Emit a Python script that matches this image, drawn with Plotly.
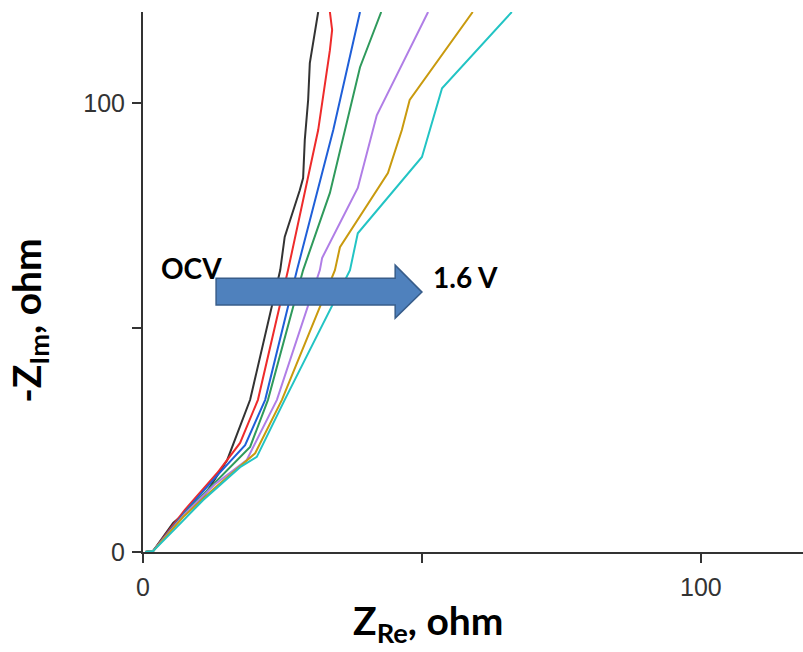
import plotly.graph_objects as go

# Nyquist curves, OCV -> 1.6 V  (x = Z_Re, y = -Z_Im, ohm)
black_x = [0.4, 1.8, 5.4, 10.8, 15.1, 19.2, 24.6, 25.4, 28.1, 28.7, 29.0, 29.6, 29.9, 31.4]
black_y = [0.0, 0.2, 6.5, 12.2, 20.5, 33.9, 62.8, 70.2, 80.6, 83.3, 91.8, 100.7, 108.9, 120.3]

red_x = [0.4, 1.8, 7.5, 13.3, 17.4, 20.6, 26.0, 31.4, 33.5, 33.9, 33.5]
red_y = [0.0, 0.2, 9.4, 17.6, 24.3, 33.9, 62.8, 94.0, 111.8, 116.3, 120.3]

blue_x = [0.4, 1.8, 7.5, 12.9, 18.3, 21.9, 27.6, 34.1, 38.9]
blue_y = [0.0, 0.2, 8.9, 16.5, 23.8, 33.9, 62.8, 94.0, 120.3]

green_x = [0.4, 1.8, 7.7, 13.4, 19.2, 22.4, 28.7, 33.5, 36.2, 38.9, 42.7]
green_y = [0.0, 0.2, 8.9, 16.0, 23.4, 33.9, 62.8, 80.0, 94.0, 108.0, 120.3]

purple_x = [0.4, 1.8, 7.5, 12.9, 18.6, 24.0, 31.7, 32.1, 38.5, 41.2, 41.9, 51.1]
purple_y = [0.0, 0.2, 8.5, 15.1, 20.5, 33.9, 62.8, 65.5, 81.1, 94.0, 97.3, 120.3]

orange_x = [0.4, 1.8, 7.2, 12.9, 20.1, 24.9, 34.4, 35.3, 43.9, 46.4, 47.8, 59.1]
orange_y = [0.0, 0.2, 7.8, 14.3, 22.0, 33.9, 62.8, 67.9, 84.4, 94.0, 100.7, 120.3]

cyan_x = [0.4, 1.8, 6.1, 10.8, 17.4, 20.4, 25.4, 37.1, 38.5, 50.0, 53.6, 66.1]
cyan_y = [0.0, 0.2, 5.6, 11.6, 18.9, 21.2, 33.9, 62.8, 71.0, 88.0, 103.3, 120.3]

series = [
    (black_x, black_y, "#333333"),
    (red_x, red_y, "#ee2b2b"),
    (blue_x, blue_y, "#1f5fd8"),
    (green_x, green_y, "#2f9a5c"),
    (purple_x, purple_y, "#b07ee6"),
    (orange_x, orange_y, "#c99a0e"),
    (cyan_x, cyan_y, "#22c4c4"),
]

major_ticks = [0, 100]
major_labels = ["0", "100"]
minor_ticks = [50]

fig = go.Figure()
for xs, ys, c in series:
    fig.add_trace(go.Scatter(x=xs, y=ys, mode="lines",
                             line=dict(color=c, width=2), showlegend=False))

axis_common = dict(showgrid=False, zeroline=False, showline=True,
                   linecolor="#333333", linewidth=2, ticks="outside",
                   ticklen=9, tickwidth=2, tickcolor="#333333",
                   tickvals=major_ticks, ticktext=major_labels,
                   minor=dict(tickvals=minor_ticks, ticks="outside", ticklen=9,
                              tickwidth=2, tickcolor="#333333", showgrid=False),
                   tickfont=dict(family="Liberation Sans Narrow, Liberation Sans",
                                 size=25, color="#333333"))

fig.update_xaxes(range=[0, 118.3], ticklabelstandoff=3, **axis_common)
fig.update_yaxes(range=[0, 120.3], ticklabelstandoff=2, **axis_common)

# arrow shape OCV -> 1.6 V
fig.add_shape(type="path",
              path="M 13.1 61.0 L 45.2 61.0 L 45.2 63.9 L 50.0 57.9 L 45.2 52.1 L 45.2 55.0 L 13.1 55.0 Z",
              xref="x", yref="y", fillcolor="#4f81bd",
              line=dict(color="#385d8a", width=1.5), layer="above")

title_font = dict(family="Lato", size=39, color="#000000")
label_font = dict(family="Lato", size=28, color="#000000")

fig.add_annotation(x=2.8, y=63.3, xref="x", yref="y", text="<b>OCV</b>",
                   showarrow=False, xanchor="left", yanchor="middle", font=label_font)
fig.add_annotation(x=51.6, y=61.2, xref="x", yref="y", text="<b>1.6 V</b>",
                   showarrow=False, xanchor="left", yanchor="middle", font=label_font)

fig.add_annotation(x=0.433, y=-0.131, xref="paper", yref="paper",
                   text="<b>Z<sub>Re</sub>, ohm</b>", showarrow=False,
                   xanchor="center", yanchor="middle", font=title_font)
fig.add_annotation(x=-0.173, y=0.428, xref="paper", yref="paper",
                   text="<b>-Z<sub>Im</sub>, ohm</b>", showarrow=False, textangle=-90,
                   xanchor="center", yanchor="middle", font=title_font)

fig.update_layout(width=803, height=652,
                  margin=dict(l=143, r=0, t=12, b=100),
                  plot_bgcolor="white", paper_bgcolor="white")

fig.write_html("out.html")
